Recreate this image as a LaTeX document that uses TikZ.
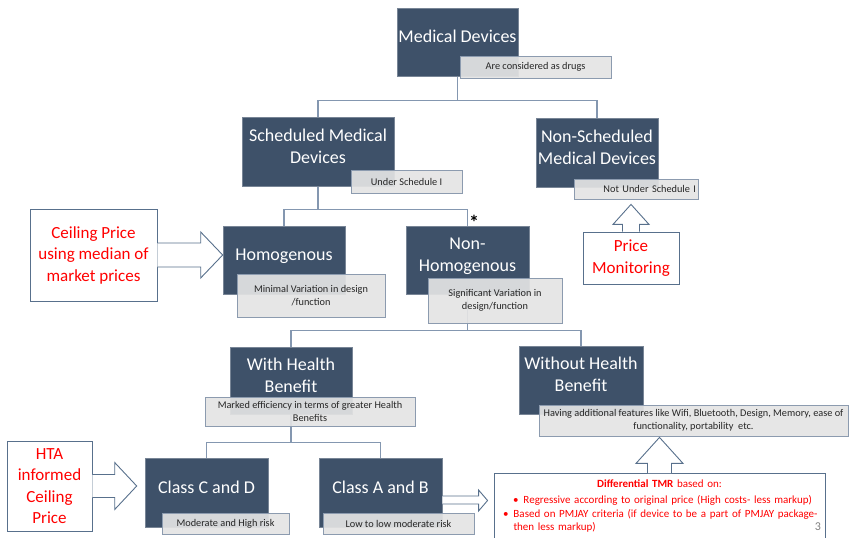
\documentclass[tikz,border=0pt]{standalone}
\usepackage{fontspec}
\setmainfont{Carlito}
\usetikzlibrary{calc, backgrounds}

\definecolor{slate}{RGB}{62,81,105}
\definecolor{linkgray}{RGB}{132,151,176}
\definecolor{noteline}{RGB}{140,155,175}
\definecolor{notefill}{RGB}{228,228,228}
\definecolor{callout}{RGB}{88,112,140}

\tikzset{
  maincat/.style={fill=slate, draw=slate!70!white, line width=0.6pt,
    text=white, align=center, inner sep=0pt,
    font=\fontsize{18}{22}\selectfont,
    execute at end node={\rule[-11pt]{0pt}{11pt}}},
  note/.style={fill=notefill, fill opacity=0.92, text opacity=1,
    draw=noteline, line width=0.8pt, text=black!85, align=center,
    inner sep=2pt, font=\fontsize{10.3}{13}\selectfont},
  link/.style={draw=linkgray, line width=1.3pt},
  redbox/.style={draw=callout, fill=white, line width=0.9pt, text=red,
    align=center, inner sep=0pt, font=\fontsize{17}{21.5}\selectfont},
  hollow/.style={draw=callout, fill=white, line width=0.9pt, line join=miter},
}

\begin{document}
\begin{tikzpicture}[x=1pt, y=-1pt]
  \useasboundingbox (0,0) rectangle (849,538);

  % category boxes
  \node[maincat, minimum width=121, minimum height=68] (md) at (457.5,42) {Medical Devices};
  \node[maincat, minimum width=152, minimum height=69] (sched) at (318,151.5) {Scheduled Medical\\Devices};
  \node[maincat, minimum width=122, minimum height=69] (nsched) at (597,152.5) {Non-Scheduled\\Medical Devices};
  \node[maincat, minimum width=122, minimum height=68] (homog) at (284,260) {Homogenous};
  \node[maincat, minimum width=123, minimum height=68] (nhomog) at (467.5,260) {Non-\\Homogenous};
  \node[maincat, minimum width=122, minimum height=67] (whb) at (291,380.5) {With Health\\Benefit};
  \node[maincat, minimum width=124, minimum height=68] (wohb) at (581,380) {Without Health\\Benefit};
  \node[maincat, minimum width=123, minimum height=69] (ccd) at (206.5,492.5) {Class C and D};
  \node[maincat, minimum width=123, minimum height=69] (cab) at (380.5,492.5) {Class A and B};

  % grey notes under each box
  \node[note, minimum width=151, minimum height=22] (mdl) at (535.5,67) {Are considered as drugs};
  \node[note, minimum width=111, minimum height=23] (schedl) at (406.5,181.5) {Under Schedule I};
  \node[note, text width=120pt, align=right, minimum height=20] (nschedl) at (636,189) {Not Under Schedule I};
  \node[note, minimum width=148, minimum height=43] (homogl) at (311,295.5) {Minimal Variation in design\\/function};
  \node[note, minimum width=134, minimum height=45] (nhomogl) at (495,300.5) {Significant Variation in\\design/function};
  \node[note, minimum width=210, minimum height=29] (whbl) at (310,411.5) {Marked efficiency in terms of greater Health\\Benefits};
  \node[note, minimum width=309, minimum height=31] (wohbl) at (693.5,420.5) {Having additional features like Wifi, Bluetooth, Design, Memory, ease of\\functionality, portability\ \ etc.};
  \node[note, minimum width=127, minimum height=21] (ccdl) at (225.5,523.5) {Moderate and High risk};
  \node[note, minimum width=151, minimum height=21] (cabl) at (398.5,523.5) {Low to low moderate risk};

  \node[anchor=base, inner sep=0pt, font=\bfseries\fontsize{20}{20}\selectfont] (star) at (474,229) {\smash{*}};

  % tree lines
  \begin{pgfonlayer}{background}
    \draw[link] (md.south) -- ++(0,24) -| (sched.north);
    \draw[link] (md.south) -- ++(0,24) -| (nsched.north);
    \draw[link] (sched.south) -- ++(0,23) -| (homog.north);
    \draw[link] (sched.south) -- ++(0,23) -| (nhomog.north);
    \draw[link] (nhomog.south) -- ++(0,36) -| (whb.north);
    \draw[link] (nhomog.south) -- ++(0,36) -| (wohb.north);
    \draw[link] (whb.south) -- ++(0,28) -| (ccd.north);
    \draw[link] (whb.south) -- ++(0,28) -| (cab.north);
  \end{pgfonlayer}

  % pricing call-outs
  \node[redbox, minimum width=127, minimum height=92] (ceil) at (93.5,255) {Ceiling Price\\using median of\\market prices};
  \node[redbox, minimum width=96, minimum height=52] (pm) at (631,258) {Price\\Monitoring};
  \node[redbox, minimum width=85, minimum height=90] (hta) at (49.5,486) {HTA\\informed\\Ceiling\\Price};
  \node[draw=callout, fill=white, line width=0.9pt, text=red, anchor=north,
        text width=331pt, inner xsep=0pt, inner ysep=6pt, align=left,
        font=\fontsize{11}{13.5}\selectfont] (tmr) at (659.5,473)
    {{\centering\textbf{Differential TMR} based on:\par}\vspace{3pt}
     \hspace*{19pt}\makebox[10.5pt][l]{\textbullet}Regressive according to original price (High costs- less markup)\par
     \hspace*{9pt}\makebox[10.5pt][l]{\textbullet}Based on PMJAY criteria (if device to be a part of PMJAY package-\\
     \hspace*{19.5pt}then less markup)\par
     \rule{0pt}{16pt}};

  % block arrows
  \draw[hollow] ($(ceil.east)+(0,-12)$) -- ($(ceil.east -| homog.west)+(-22,-12)$)
    -- ++(0,-11) -- (ceil.east -| homog.west) -- ++(-22,23) -- ++(0,-11)
    -- ($(ceil.east)+(0,12)$);
  \draw[hollow] ($(hta.east)+(0,-11.5)$) -- ($(hta.east -| ccd.west)+(-30,-11.5)$)
    -- ++(0,-12) -- ($(hta.east -| ccd.west)+(-8,0)$) -- ++(-22,23.5) -- ++(0,-12)
    -- ($(hta.east)+(0,11.5)$);
  \draw[hollow] ($(pm.north)+(-8.5,0)$) -- ($(pm.north |- nschedl.south)+(-8.5,25)$)
    -- ++(-9.5,0) -- ($(pm.north |- nschedl.south)+(0,5)$) -- ++(18,20) -- ++(-9.5,0)
    -- ($(pm.north)+(8.5,0)$);
  \draw[hollow] ($(tmr.north)+(-12,0)$) -- ($(tmr.north |- wohbl.south)+(-12,27)$)
    -- ++(-11.5,0) -- ($(tmr.north |- wohbl.south)+(0,1)$) -- ++(23.5,26) -- ++(-11.5,0)
    -- ($(tmr.north)+(12,0)$);
  \draw[hollow] ($(cab.east)+(0,3.5)$) -- ($(cab.east -| tmr.west)+(-15,3.5)$)
    -- ++(0,-6) -- ($(cab.east -| tmr.west)+(-6,8)$) -- ++(-9,10.5) -- ++(0,-7)
    -- ($(cab.east)+(0,11.5)$);

  \node[text=gray, font=\fontsize{12}{12}\selectfont] (pgno) at (818,527) {3};
\end{tikzpicture}
\end{document}
